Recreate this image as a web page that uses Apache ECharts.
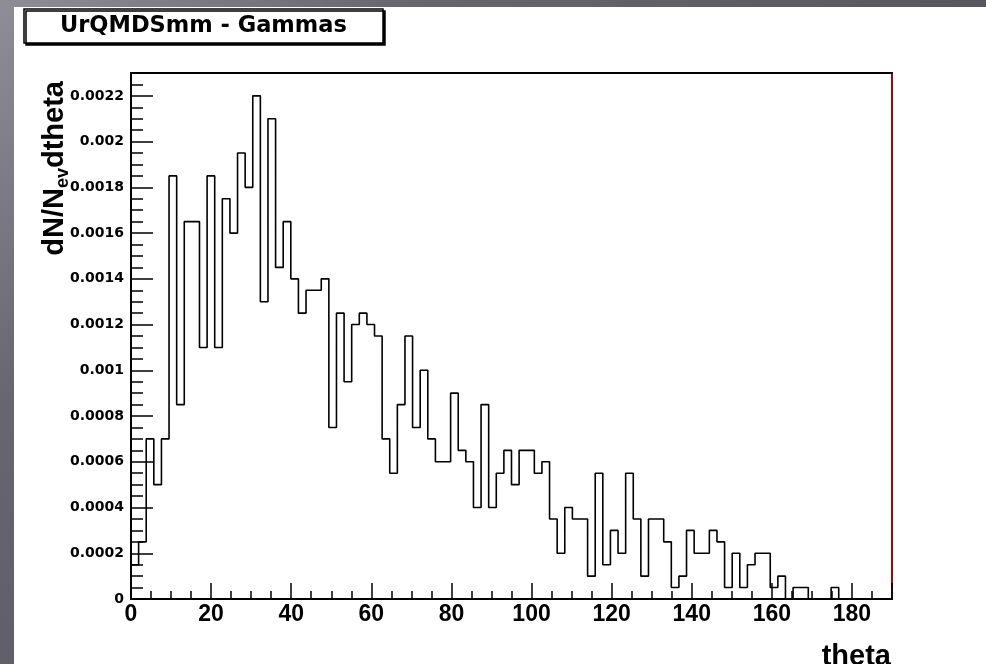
<!DOCTYPE html>
<html>
<head>
<meta charset="utf-8">
<script src="https://cdn.jsdelivr.net/npm/echarts@6/dist/echarts.min.js"></script>
<style>
  html, body { margin: 0; padding: 0; width: 986px; height: 664px; overflow: hidden; }
  body { background: linear-gradient(135deg, #8f8d95 0%, #67656d 25%, #58565e 60%, #56545c 100%); position: relative; }
  #chart { position: absolute; left: 14px; top: 7px; width: 972px; height: 657px; background: #ffffff; }
</style>
</head>
<body>
<div id="chart"></div>
<script>
// ---- data ----
const titleText = 'UrQMDSmm - Gammas';
const xTitle = 'theta';
const binStart = 0;
const binWidth = 1.9;
const xMin = 0, xMax = 190;
const yMin = 0, yMax = 0.0023;
const xTickValues = [0, 20, 40, 60, 80, 100, 120, 140, 160, 180];
const counts = [
  0.00015, 0.00025, 0.0007, 0.0005, 0.0007, 0.00185, 0.00085, 0.00165, 0.00165, 0.0011,
  0.00185, 0.0011, 0.00175, 0.0016, 0.00195, 0.0018, 0.0022, 0.0013, 0.0021, 0.00145,
  0.00165, 0.0014, 0.00125, 0.00135, 0.00135, 0.0014, 0.00075, 0.00125, 0.00095, 0.0012,
  0.00125, 0.0012, 0.00115, 0.0007, 0.00055, 0.00085, 0.00115, 0.00075, 0.001, 0.0007,
  0.0006, 0.0006, 0.0009, 0.00065, 0.0006, 0.0004, 0.00085, 0.0004, 0.00055, 0.00065,
  0.0005, 0.00065, 0.00065, 0.00055, 0.0006, 0.00035, 0.0002, 0.0004, 0.00035, 0.00035,
  0.0001, 0.00055, 0.00015, 0.0003, 0.0002, 0.00055, 0.00035, 0.0001, 0.00035, 0.00035,
  0.00025, 0.00005, 0.0001, 0.0003, 0.0002, 0.0002, 0.0003, 0.00025, 0.00005, 0.0002,
  0.00005, 0.00015, 0.0002, 0.0002, 0.00005, 0.0001, 0, 0.00005, 0.00005, 0,
  0, 0, 0.00005, 0, 0, 0, 0, 0, 0, 0
];

// step-line points: left edge of each bin, plus closing right edge
const stepData = counts.map((v, i) => [binStart + i * binWidth, v]);
stepData.push([binStart + counts.length * binWidth, counts[counts.length - 1]]);

const chart = echarts.init(document.getElementById('chart'), null, { renderer: 'canvas' });
const black = '#000000';
const option = {
  animation: false,
  backgroundColor: '#ffffff',
  title: {
    text: titleText,
    left: 10, top: 2,
    padding: [6, 36, 5, 36],
    borderColor: black, borderWidth: 1.5,
    backgroundColor: '#ffffff',
    shadowColor: '#000', shadowOffsetX: 2, shadowOffsetY: 2, shadowBlur: 0,
    textStyle: { fontFamily: 'DejaVu Sans', fontWeight: 'bold', fontSize: 22.5, color: black }
  },
  grid: { left: 117, top: 66, right: 94, bottom: 65, containLabel: false },
  xAxis: [
    {
      type: 'value', position: 'bottom', min: xMin, max: xMax, interval: 20,
      axisLine: { show: true, onZero: false, lineStyle: { color: black, width: 2 } },
      axisTick: { show: true, inside: true, length: 16, lineStyle: { color: black, width: 1.5 } },
      axisLabel: {
        show: true, margin: 4, color: black,
        fontFamily: 'Liberation Sans', fontWeight: 'bold', fontSize: 23,
        formatter: v => xTickValues.indexOf(v) >= 0 ? String(v) : ''
      },
      splitLine: { show: false }
    },
    {
      type: 'value', position: 'bottom', min: xMin, max: xMax, interval: 5,
      axisLine: { show: false, onZero: false },
      axisTick: { show: true, inside: true, length: 8, lineStyle: { color: black, width: 1.5 } },
      axisLabel: { show: false },
      splitLine: { show: false }
    },
    {
      type: 'value', position: 'top', min: xMin, max: xMax,
      axisLine: { show: true, onZero: false, lineStyle: { color: black, width: 2 } },
      axisTick: { show: false }, axisLabel: { show: false }, splitLine: { show: false }
    }
  ],
  yAxis: [
    {
      type: 'value', position: 'left', min: yMin, max: yMax, interval: 0.0002,
      axisLine: { show: true, onZero: false, lineStyle: { color: black, width: 2 } },
      axisTick: { show: true, inside: true, length: 22, lineStyle: { color: black, width: 1.5 } },
      axisLabel: {
        show: true, margin: 7, color: black,
        fontFamily: 'DejaVu Sans', fontWeight: 'bold', fontSize: 14,
        formatter: v => (v > yMax - 1e-9) ? '' : (v === 0 ? '0' : String(parseFloat(v.toFixed(5))))
      },
      splitLine: { show: false }
    },
    {
      type: 'value', position: 'left', min: yMin, max: yMax, interval: 0.00005,
      axisLine: { show: false, onZero: false },
      axisTick: { show: true, inside: true, length: 12, lineStyle: { color: black, width: 1.5 } },
      axisLabel: { show: false }, splitLine: { show: false }
    },
    {
      type: 'value', position: 'right', min: yMin, max: yMax,
      axisLine: { show: true, onZero: false, lineStyle: { color: '#8a1010', width: 2 } },
      axisTick: { show: false }, axisLabel: { show: false }, splitLine: { show: false }
    }
  ],
  series: [{
    type: 'line',
    xAxisIndex: 0, yAxisIndex: 0,
    step: 'end',
    data: stepData,
    symbol: 'none',
    lineStyle: { color: black, width: 1.6 },
    clip: true
  }],
  graphic: [
    {
      type: 'text',
      x: 41, y: 74,
      rotation: Math.PI / 2,
      style: {
        text: '{a|dN/N}{s|ev}{a|dtheta}',
        align: 'right', verticalAlign: 'middle',
        fill: black,
        rich: {
          a: { fontFamily: 'Liberation Sans', fontWeight: 'bold', fontSize: 29, lineHeight: 34, verticalAlign: 'middle', color: black },
          s: { fontFamily: 'Liberation Sans', fontWeight: 'bold', fontSize: 18, lineHeight: 14, verticalAlign: 'bottom', color: black }
        }
      }
    },
    {
      type: 'text',
      x: 877, y: 664,
      style: {
        text: xTitle,
        align: 'right', verticalAlign: 'bottom',
        fill: black,
        font: 'bold 29px "Liberation Sans"'
      }
    }
  ]
};
chart.setOption(option);
</script>
</body>
</html>
